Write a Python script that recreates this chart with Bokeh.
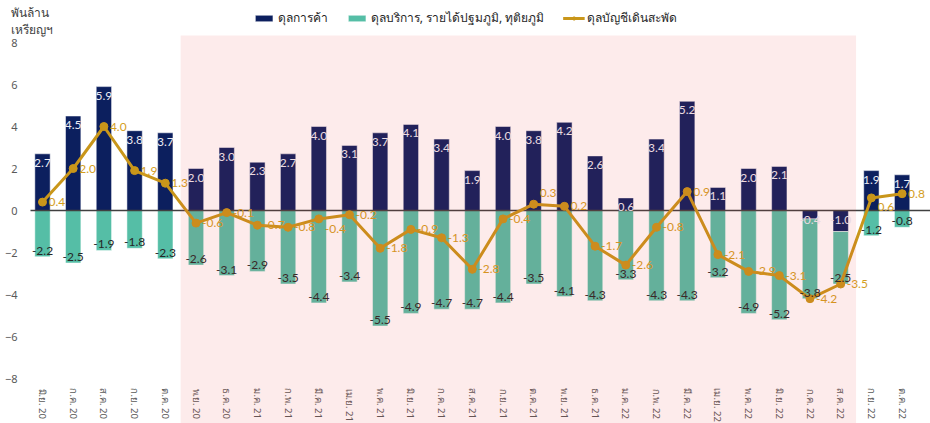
import numpy as np
from bokeh.plotting import figure
from bokeh.models import (ColumnDataSource, Range1d, LinearAxis, FixedTicker,
                          BoxAnnotation, Legend, LegendItem, Label)
from bokeh.core.properties import value
from bokeh.embed import file_html
from bokeh.resources import INLINE

months = ["มิ.ย. 20", "ก.ค. 20", "ส.ค. 20", "ก.ย. 20", "ต.ค. 20", "พ.ย. 20", "ธ.ค. 20",
          "ม.ค. 21", "ก.พ. 21", "มี.ค. 21", "เม.ย. 21", "พ.ค. 21", "มิ.ย. 21", "ก.ค. 21",
          "ส.ค. 21", "ก.ย. 21", "ต.ค. 21", "พ.ย. 21", "ธ.ค. 21", "ม.ค. 22", "ก.พ. 22",
          "มี.ค. 22", "เม.ย. 22", "พ.ค. 22", "มิ.ย. 22", "ก.ค. 22", "ส.ค. 22", "ก.ย. 22",
          "ต.ค. 22"]
trade = [2.7, 4.5, 5.9, 3.8, 3.7, 2.0, 3.0, 2.3, 2.7, 4.0, 3.1, 3.7, 4.1, 3.4, 1.9,
         4.0, 3.8, 4.2, 2.6, 0.6, 3.4, 5.2, 1.1, 2.0, 2.1, -0.4, -1.0, 1.9, 1.7]
services = [-2.2, -2.5, -1.9, -1.8, -2.3, -2.6, -3.1, -2.9, -3.5, -4.4, -3.4, -5.5, -4.9,
            -4.7, -4.7, -4.4, -3.5, -4.1, -4.3, -3.3, -4.3, -4.3, -3.2, -4.9, -5.2, -3.8,
            -2.5, -1.2, -0.8]
current = [0.4, 2.0, 4.0, 1.9, 1.3, -0.6, -0.1, -0.7, -0.8, -0.4, -0.2, -1.8, -0.9, -1.3,
           -2.8, -0.4, 0.3, 0.2, -1.7, -2.6, -0.8, 0.9, -2.1, -2.9, -3.1, -4.2, -3.5, 0.6, 0.8]
y_ticks = [-8, -6, -4, -2, 0, 2, 4, 6, 8]
shade_first, shade_last = "พ.ย. 20", "ส.ค. 22"
names = ["ดุลการค้า", "ดุลบริการ, รายได้ปฐมภูมิ, ทุติยภูมิ", "ดุลบัญชีเดินสะพัด"]
y_title = "พันล้าน\nเหรียญฯ"

# small vertical nudges (px) for a few current-account labels, as in the original
ca_label_nudge = {"มี.ค. 21": 10, "ต.ค. 21": -11, "ก.ย. 22": 9}

NAVY = "#0C1F5E"
TEAL = "#55BEA6"
GOLD = "#C9961A"
GOLD_TXT = "#D49E1E"
FONT = "Noto Sans"
NUMFONT = "Lato"

W, H = 930, 423
first_px, step_px = 42, 30.7
y8_px, ppu = 42, 21.0
x_start = -first_px / step_px
x_end = (W - first_px) / step_px
y_end = 8 + y8_px / ppu
y_start = 8 - (H - y8_px) / ppu
yaxis_x = -(first_px - 27) / step_px
zero_x0 = -(first_px - 30) / step_px
title_x = -(first_px - 10) / step_px
title_y = y_end - 3 / ppu
shade_top = 8 + 7 / ppu

x = np.arange(len(months))
tr = np.array(trade)
sv = np.array(services)
ca = np.array(current)
sv_top = np.minimum(tr, 0)
sv_bot = sv_top + sv
ca_lbl_y = ca - np.array([ca_label_nudge.get(m, 0) for m in months]) / ppu

src = ColumnDataSource(dict(
    x=x, trade=tr, sv_top=sv_top, sv_bot=sv_bot, ca=ca,
    tr_lbl=[f"{v:.1f}" for v in trade],
    tr_lbl_y=np.maximum(tr, 0),
    sv_lbl=[f"{v:.1f}" for v in services],
    ca_lbl=[f"{v:.1f}" for v in current],
    ca_lbl_y=ca_lbl_y,
))

p = figure(width=W, height=H, output_backend="svg", toolbar_location=None,
           x_range=Range1d(x_start, x_end), y_range=Range1d(y_start, y_end),
           x_axis_location=None, y_axis_location=None,
           min_border_left=0, min_border_right=0, min_border_top=0, min_border_bottom=0)
p.outline_line_color = None
p.grid.visible = False
p.background_fill_color = "white"
p.border_fill_color = "white"

ya = LinearAxis(fixed_location=yaxis_x, ticker=FixedTicker(ticks=y_ticks))
ya.axis_line_color = None
ya.major_tick_line_color = None
ya.minor_tick_line_color = None
ya.major_label_text_font = FONT
ya.major_label_text_font_size = "11px"
ya.major_label_text_color = "#595959"
ya.major_label_standoff = 4
p.add_layout(ya, "left")

xa = LinearAxis(fixed_location=-8, ticker=FixedTicker(ticks=list(x)),
                major_label_overrides={int(i): m for i, m in zip(x, months)})
xa.axis_line_color = None
xa.major_tick_line_color = None
xa.minor_tick_line_color = None
xa.major_label_orientation = "vertical"
xa.major_label_text_font = FONT
xa.major_label_text_font_size = "9.5px"
xa.major_label_text_color = "#595959"
xa.major_label_standoff = 4
p.add_layout(xa, "below")

bw = 0.5
r_tr = p.vbar(x="x", top="trade", bottom=0, width=bw, source=src, fill_color=NAVY,
              line_color="white", line_alpha=0.5, line_width=1)
r_sv = p.vbar(x="x", top="sv_top", bottom="sv_bot", width=bw, source=src, fill_color=TEAL,
              line_color="white", line_alpha=0.5, line_width=1)

p.segment(x0=zero_x0, x1=x_end, y0=0, y1=0, line_color="#404040", line_width=1.3)

r_line = p.line(x="x", y="ca", source=src, line_color=GOLD, line_width=3)
r_pt = p.scatter(x="x", y="ca", source=src, size=8, fill_color=GOLD, line_color=GOLD)

p.text(x="x", y="tr_lbl_y", text="tr_lbl", source=src, text_align="center",
       text_baseline="top", y_offset=5, text_font=value(NUMFONT),
       text_font_size="12px", text_color="#ECECF4")
p.text(x="x", y="sv_bot", text="sv_lbl", source=src, text_align="center",
       text_baseline="bottom", y_offset=-2, text_font=value(NUMFONT),
       text_font_size="12px", text_color="#262626")
p.text(x="x", y="ca_lbl_y", text="ca_lbl", source=src, text_align="left",
       text_baseline="middle", x_offset=6, text_font=value(NUMFONT),
       text_font_size="12px", text_color=GOLD_TXT)

i0, i1 = months.index(shade_first), months.index(shade_last)
p.add_layout(BoxAnnotation(left=i0 - 0.5, right=i1 + 0.5, top=shade_top, bottom=None,
                           fill_color="#EB3737", fill_alpha=0.1, line_color=None,
                           level="overlay"))

legend = Legend(items=[LegendItem(label=names[0], renderers=[r_tr]),
                       LegendItem(label=names[1], renderers=[r_sv]),
                       LegendItem(label=names[2], renderers=[r_line, r_pt])],
                orientation="horizontal", location="top_center",
                border_line_color=None, background_fill_alpha=0,
                label_text_font=FONT, label_text_font_size="12px",
                label_text_color="#262626", glyph_width=22, glyph_height=8,
                spacing=18, margin=8, padding=6, label_standoff=3)
p.add_layout(legend)

p.add_layout(Label(x=title_x, y=title_y, x_units="data", y_units="data", text=y_title,
                   text_baseline="top", text_align="left", text_font=FONT,
                   text_font_size="12px", text_color="#404040", text_line_height=1.0))

open("out.html", "w").write(file_html(p, INLINE))
